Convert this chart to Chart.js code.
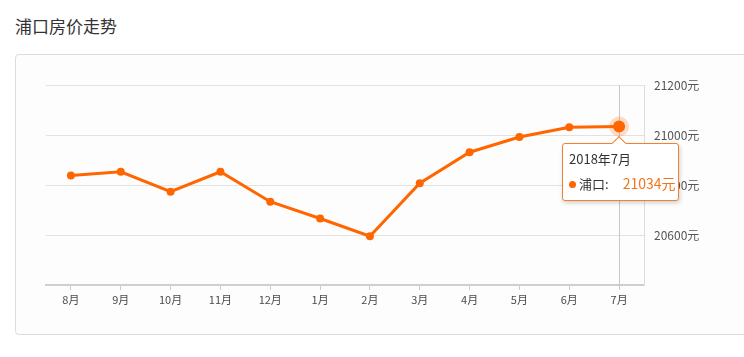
<!DOCTYPE html>
<html>
<head>
<meta charset="utf-8">
<script src="https://cdn.jsdelivr.net/npm/chart.js@4/dist/chart.umd.min.js"></script>
<style>
  html, body { margin: 0; padding: 0; background: #ffffff; width: 744px; height: 357px; overflow: hidden; }
  body { position: relative; font-family: "Microsoft YaHei", "Noto Sans CJK SC", sans-serif; }
  #title { position: absolute; left: 15px; top: 13px; font-size: 17px; line-height: 26px; color: #333; }
  #frame { position: absolute; left: 15px; top: 54px; width: 740px; height: 279px; border: 1px solid #dcdcdc; border-radius: 4px; background: #fdfdfd; }
  #wrap { position: absolute; left: 0; top: 0; width: 744px; height: 357px; }
  #tip { position: absolute; background: #fff; border: 1px solid #f3802e; border-radius: 3px;
         box-shadow: 1px 2px 4px rgba(0,0,0,0.18); padding: 6px 6px 6px 6px; width: 103px; height: 44px;
         font-family: "Microsoft YaHei", "Noto Sans CJK SC", sans-serif; color: #333; }
  #tip .t { font-size: 13px; line-height: 18px; margin-top: 0px; }
  #tip .r { font-size: 13px; line-height: 18px; margin-top: 6px; white-space: nowrap; }
  #tip .dot { display: inline-block; width: 7px; height: 7px; border-radius: 50%; background: #ff6600; margin-right: 3px; vertical-align: 1px; }
  #tip .v { color: #f4741d; font-size: 14px; margin-left: 14px; }
  #caret { position: absolute; width: 9px; height: 9px; background: #fff; border-left: 1px solid #f3802e; border-top: 1px solid #f3802e; transform: rotate(45deg); }
</style>
</head>
<body>
<div id="title">浦口房价走势</div>
<div id="frame"></div>
<div id="wrap"><canvas id="c" width="744" height="357"></canvas></div>
<div id="caret"></div>
<div id="tip"><div class="t" id="tipTitle"></div><div class="r"><span class="dot"></span><span id="tipName"></span><span class="v" id="tipVal"></span></div></div>
<script>
const seriesName = "浦口";
const months = ["8月","9月","10月","11月","12月","1月","2月","3月","4月","5月","6月","7月"];
const prices = [20838, 20853, 20773, 20853, 20733, 20666, 20595, 20807, 20931, 20992, 21031, 21034];
const yTicks = [20600, 20800, 21000, 21200];
const yMin = 20400, yMax = 21200, yStep = 200;
const activeIndex = 11;
const activeYear = 2018;

const lineColor = "#ff6600";

const overlay = {
  id: "overlay",
  beforeDatasetsDraw(chart) {
    const ctx = chart.ctx;
    const meta = chart.getDatasetMeta(0);
    const pt = meta.data[activeIndex];
    const area = chart.chartArea;
    ctx.save();
    ctx.strokeStyle = "#c8c8c8";
    ctx.lineWidth = 1;
    ctx.beginPath();
    ctx.moveTo(Math.round(pt.x) + 0.5, area.top);
    ctx.lineTo(Math.round(pt.x) + 0.5, area.bottom + 4);
    ctx.stroke();
    ctx.restore();
  },
  afterDatasetsDraw(chart) {
    const ctx = chart.ctx;
    const pt = chart.getDatasetMeta(0).data[activeIndex];
    ctx.save();
    ctx.fillStyle = "rgba(255,102,0,0.22)";
    ctx.beginPath();
    ctx.arc(pt.x, pt.y, 10, 0, Math.PI * 2);
    ctx.fill();
    ctx.fillStyle = lineColor;
    ctx.beginPath();
    ctx.arc(pt.x, pt.y, 6, 0, Math.PI * 2);
    ctx.fill();
    ctx.restore();
  },
  afterRender(chart) {
    const pt = chart.getDatasetMeta(0).data[activeIndex];
    const tip = document.getElementById("tip");
    const caret = document.getElementById("caret");
    document.getElementById("tipTitle").textContent = activeYear + "年" + months[activeIndex];
    document.getElementById("tipName").textContent = seriesName + ":";
    document.getElementById("tipVal").textContent = prices[activeIndex] + "元";
    const w = 117, top = pt.y + 16;
    tip.style.left = Math.round(pt.x - w / 2 + 1) + "px";
    tip.style.top = Math.round(top) + "px";
    caret.style.left = Math.round(pt.x - 5) + "px";
    caret.style.top = Math.round(top - 5) + "px";
    caret.style.zIndex = 3;
    tip.style.zIndex = 2;
  }
};

new Chart(document.getElementById("c"), {
  type: "line",
  data: {
    labels: months,
    datasets: [{
      label: seriesName,
      data: prices,
      borderColor: lineColor,
      backgroundColor: lineColor,
      borderWidth: 3,
      pointRadius: 4,
      pointBorderWidth: 0,
      pointBackgroundColor: lineColor,
      tension: 0,
      fill: false
    }]
  },
  options: {
    responsive: false,
    animation: false,
    events: [],
    layout: { padding: { left: 46, top: 85, right: 0, bottom: 0 } },
    plugins: { legend: { display: false }, tooltip: { enabled: false } },
    scales: {
      x: {
        offset: true,
        grid: { offset: false, drawOnChartArea: false, drawTicks: true, tickLength: 5, color: "#cccccc" },
        border: { display: true, color: "#cfcfcf", width: 2 },
        ticks: { color: "#4a4a4a", padding: 3, font: { size: 11, family: "'Microsoft YaHei','Noto Sans CJK SC',sans-serif" }, maxRotation: 0, autoSkip: false },
        afterFit(s) { s.height = 72; }
      },
      y: {
        position: "right",
        min: yMin, max: yMax,
        afterBuildTicks(s) { s.ticks = [yMin].concat(yTicks).map(v => ({ value: v })); },
        grid: { color: "#e2e2e2", drawTicks: false, lineWidth: 1 },
        border: { display: true, color: "#dddddd", width: 1 },
        ticks: {
          color: "#555", padding: 10,
          font: { size: 12, family: "'Microsoft YaHei','Noto Sans CJK SC',sans-serif" },
          callback: (v) => yTicks.includes(v) ? v + "元" : ""
        },
        afterFit(s) { s.width = 100; }
      }
    }
  },
  plugins: [overlay]
});
</script>
</body>
</html>
